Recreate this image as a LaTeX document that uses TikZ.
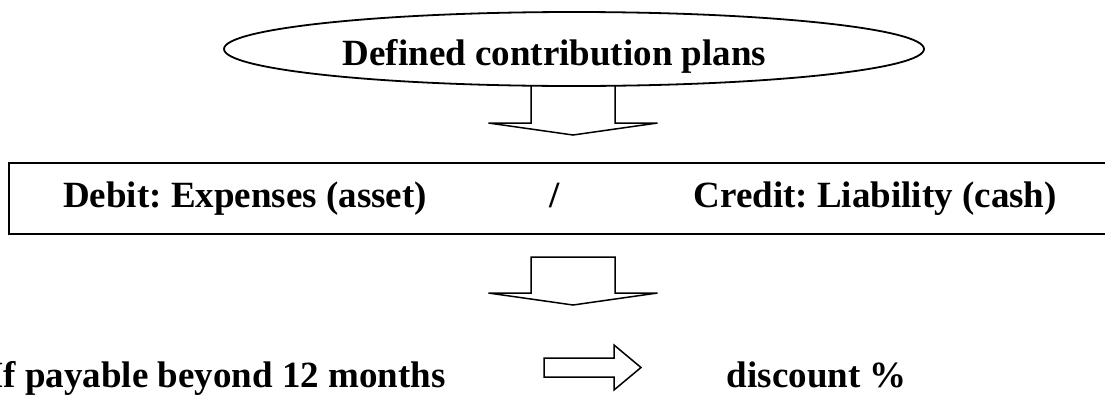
\documentclass[tikz,border=0pt]{standalone}
\usepackage{fontspec}
\setmainfont{Liberation Serif}
\usetikzlibrary{shapes.geometric}
\begin{document}
\frenchspacing
\begin{tikzpicture}[x=1pt,y=-1pt,
  lbl/.style={font=\fontsize{37}{44}\selectfont\bfseries, inner sep=0pt},
  outline/.style={draw=black, line width=1.8pt},
  blockarrow/.style={draw=black, line width=1.5pt, fill=white, line join=miter}]
\useasboundingbox (0,0) rectangle (1105,397);
\clip (0,0) rectangle (1105,397);

% first down arrow, its top hidden under the ellipse
\coordinate (a1) at (573,60);
\draw[blockarrow] (a1) ++(-42,0) -- ++(0,63) -- ++(-42.5,0) -- (573,135)
  -- (657.5,123) -- ++(-42.5,0) -- ++(0,-63) -- cycle;

% plan ellipse and its title
\node[ellipse, outline, fill=white, minimum width=700pt, minimum height=74pt,
  inner sep=0pt] (plan) at (574,49) {};
\node[lbl, anchor=base] (plantitle) at (554.5,65) {Defined contribution plans};

% journal entry box
\node[outline, anchor=north west, minimum width=1110pt, minimum height=71pt,
  inner sep=0pt] (entry) at (8,162) {};
\node[lbl, anchor=base west] (debit) at (63,207) {Debit: Expenses (asset)};
\node[lbl, anchor=base] (slash) at (555,207) {/};
\node[lbl, anchor=base east] (credit) at (1057,207) {Credit: Liability (cash)};

% second down arrow
\coordinate (a2) at (573,257);
\draw[blockarrow] (a2) ++(-42,0) -- ++(0,36) -- ++(-42.5,0) -- (573,305)
  -- (657.5,293) -- ++(-42.5,0) -- ++(0,-36) -- cycle;

% bottom line: condition, right arrow, result
\node[lbl, anchor=base west] (cond) at (-11,387) {If payable beyond 12 months};
\coordinate (a3) at (544,367.5);
\draw[blockarrow] (a3) ++(0,-9.5) -- ++(70,0) -- ++(0,-13) -- (641,367.5)
  -- (614,390) -- ++(0,-13) -- ++(-70,0) -- cycle;
\node[lbl, anchor=base east] (disc) at (907,387) {discount \%};
\end{tikzpicture}
\end{document}
